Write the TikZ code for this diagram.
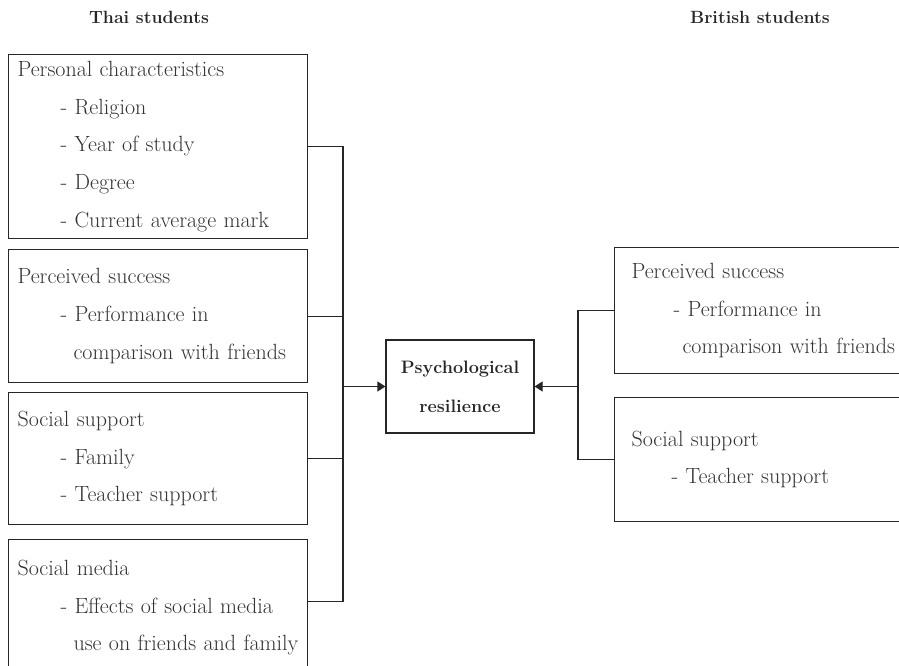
\documentclass[tikz,border=0pt]{standalone}
\usepackage{tikz}
\usetikzlibrary{positioning,arrows.meta}

\newcommand{\subitm}[1]{\hspace*{43pt}- #1}
\newcommand{\subcont}[1]{\hspace*{56pt}#1}

\tikzset{
  factor/.style={draw=black!85, line width=1.1pt, rectangle, anchor=north west,
    align=left, inner xsep=9pt, inner ysep=0pt, text=black!80, text width=281pt,
    font=\fontsize{22}{37.7}\selectfont},
  rfactor/.style={factor, inner xsep=17pt, text width=286pt},
  group/.style={font=\bfseries\fontsize{17.7}{20}\selectfont, text=black!85},
  link/.style={draw=black!85, line width=1.1pt},
  arr/.style={link, -{Triangle[length=8pt,width=10pt]}}
}

\begin{document}
\begin{tikzpicture}[x=1pt,y=-1pt]
\useasboundingbox (0,0) rectangle (899,666);
\clip (0,0) rectangle (899,666);

% headings
\node[group] (thai) at (149,17) {Thai students};
\node[group] (brit) at (760,17) {British students};

% Thai factors
\node[factor, minimum width=299pt, minimum height=184pt] (pers) at (8,54)
  {Personal characteristics\\ \subitm{Religion}\\ \subitm{Year of study}\\
   \subitm{Degree}\\ \subitm{Current average mark}};
\node[factor, minimum width=299pt, minimum height=133pt] (succ) at (8,249)
  {Perceived success\\ \subitm{Performance in}\\ \subcont{comparison with friends}};
\node[factor, minimum width=299pt, minimum height=132pt] (supp) at (8,392)
  {Social support\\ \subitm{Family}\\ \subitm{Teacher support}};
\node[factor, minimum width=299pt, minimum height=136pt] (media) at (8,539)
  {Social media\\ \subitm{Effects of social media}\\ \subcont{use on friends and family}};

% British factors
\node[rfactor, minimum width=320pt, minimum height=126pt] (bsucc) at (614,247)
  {Perceived success\\ \hspace*{42pt}- Performance in\\ \hspace*{51pt}comparison with friends};
\node[rfactor, minimum width=320pt, minimum height=124pt] (bsupp) at (614,397)
  {Social support\\ \hspace*{40pt}- Teacher support};

% outcome
\node[draw=black!85, line width=1.1pt, minimum width=148pt, minimum height=93pt,
  align=center, text=black!85, font=\bfseries\fontsize{18}{39}\selectfont]
  (psy) at (460,386.5) {Psychological\\ resilience};

\coordinate (lbus) at (343,386.5);
\coordinate (rbus) at (578,386.5);

% connectors
\draw[link] (pers.east) -| (lbus) |- ([yshift=6pt]media.east);
\draw[link] (succ.east) -- (succ.east -| lbus);
\draw[link] (supp.east) -- (supp.east -| lbus);
\draw[arr] (lbus) -- (psy.west);
\draw[link] (bsucc.west) -| (rbus) |- (bsupp.west);
\draw[arr] (rbus) -- (psy.east);
\end{tikzpicture}
\end{document}
